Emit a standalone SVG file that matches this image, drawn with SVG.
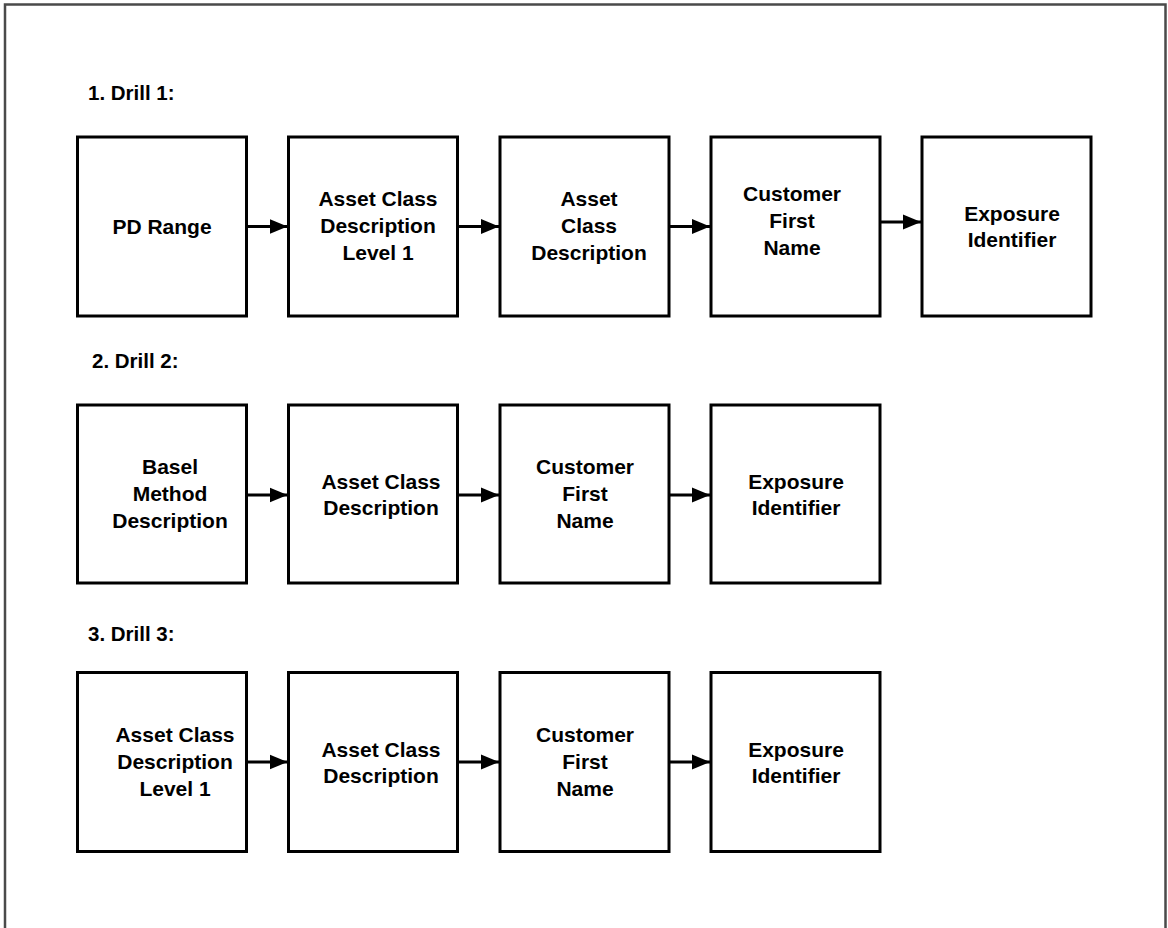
<svg xmlns="http://www.w3.org/2000/svg" width="1168" height="928" viewBox="0 0 1168 928">
<style>
.box{fill:#fff;stroke:#000;stroke-width:3}
.t{font-family:"Liberation Sans",Arial,sans-serif;font-weight:bold;font-size:21px;fill:#000;text-anchor:middle}
.h{font-family:"Liberation Sans",Arial,sans-serif;font-weight:bold;font-size:20.5px;fill:#000}
.c{stroke:#000;stroke-width:3;fill:none;marker-end:url(#ah)}
</style>
<defs>
<marker id="ah" markerWidth="18" markerHeight="16" refX="18" refY="8" orient="auto" markerUnits="userSpaceOnUse">
<path d="M0,0.5 L18,8 L0,15.5 z" fill="#000"/>
</marker>
</defs>
<rect x="0" y="0" width="1168" height="928" fill="#fff"/>
<rect x="5" y="4.5" width="1160.5" height="940" fill="none" stroke="#4a4a4a" stroke-width="2.5"/>
<text class="h" x="88" y="100">1. Drill 1:</text>
<text class="h" x="92" y="368">2. Drill 2:</text>
<text class="h" x="88" y="641">3. Drill 3:</text>
<g id="r1b1"><rect class="box" x="77.5" y="137" width="169" height="179"/><text class="t" x="162" y="233.5">PD Range</text></g>
<g id="r1b2"><rect class="box" x="288.5" y="137" width="169" height="179"/><text class="t" x="378" y="206">Asset Class</text><text class="t" x="378" y="233">Description</text><text class="t" x="378" y="260">Level 1</text></g>
<g id="r1b3"><rect class="box" x="500" y="137" width="169" height="179"/><text class="t" x="589" y="206">Asset</text><text class="t" x="589" y="233">Class</text><text class="t" x="589" y="260">Description</text></g>
<g id="r1b4"><rect class="box" x="711" y="137" width="169" height="179"/><text class="t" x="792" y="201">Customer</text><text class="t" x="792" y="228">First</text><text class="t" x="792" y="255">Name</text></g>
<g id="r1b5"><rect class="box" x="922" y="137" width="169" height="179"/><text class="t" x="1012" y="220.5">Exposure</text><text class="t" x="1012" y="246.5">Identifier</text></g>
<g id="r2b1"><rect class="box" x="77.5" y="405" width="169" height="178"/><text class="t" x="170" y="474">Basel</text><text class="t" x="170" y="501">Method</text><text class="t" x="170" y="528">Description</text></g>
<g id="r2b2"><rect class="box" x="288.5" y="405" width="169" height="178"/><text class="t" x="381" y="489">Asset Class</text><text class="t" x="381" y="515">Description</text></g>
<g id="r2b3"><rect class="box" x="500" y="405" width="169" height="178"/><text class="t" x="585" y="474">Customer</text><text class="t" x="585" y="501">First</text><text class="t" x="585" y="528">Name</text></g>
<g id="r2b4"><rect class="box" x="711" y="405" width="169" height="178"/><text class="t" x="796" y="489">Exposure</text><text class="t" x="796" y="515">Identifier</text></g>
<g id="r3b1"><rect class="box" x="77.5" y="672.5" width="169" height="179"/><text class="t" x="175" y="742">Asset Class</text><text class="t" x="175" y="769">Description</text><text class="t" x="175" y="796">Level 1</text></g>
<g id="r3b2"><rect class="box" x="288.5" y="672.5" width="169" height="179"/><text class="t" x="381" y="756.5">Asset Class</text><text class="t" x="381" y="782.5">Description</text></g>
<g id="r3b3"><rect class="box" x="500" y="672.5" width="169" height="179"/><text class="t" x="585" y="742">Customer</text><text class="t" x="585" y="769">First</text><text class="t" x="585" y="796">Name</text></g>
<g id="r3b4"><rect class="box" x="711" y="672.5" width="169" height="179"/><text class="t" x="796" y="756.5">Exposure</text><text class="t" x="796" y="782.5">Identifier</text></g>
<g id="connectors">
<line class="c" x1="246.5" y1="226.5" x2="287.5" y2="226.5"/>
<line class="c" x1="457.5" y1="226.5" x2="499" y2="226.5"/>
<line class="c" x1="669" y1="226.5" x2="710" y2="226.5"/>
<line class="c" x1="880" y1="222" x2="921" y2="222"/>
<line class="c" x1="246.5" y1="495" x2="287.5" y2="495"/>
<line class="c" x1="457.5" y1="495" x2="499" y2="495"/>
<line class="c" x1="669" y1="495" x2="710" y2="495"/>
<line class="c" x1="246.5" y1="762" x2="287.5" y2="762"/>
<line class="c" x1="457.5" y1="762" x2="499" y2="762"/>
<line class="c" x1="669" y1="762" x2="710" y2="762"/>
</g>
</svg>
